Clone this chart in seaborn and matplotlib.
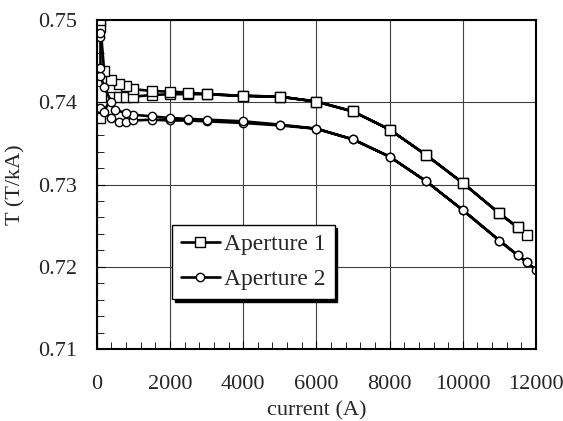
import numpy as np
import pandas as pd
import seaborn as sns
import matplotlib.pyplot as plt
from matplotlib.ticker import MultipleLocator

# Aperture 1: ramp up, then ramp down (hysteresis at low current)
ap1_current = [100, 400, 600, 800, 1000, 1500, 2000, 2500, 3000, 4000, 5000,
               6000, 7000, 8000, 9000, 10000, 11000, 11500, 11750,
               11500, 11000, 10000, 9000, 8000, 7000, 6000, 5000, 4000,
               3000, 2500, 2000, 1500, 1000, 800, 600, 400, 200, 100, 80]
ap1_tf = [0.7381, 0.7406, 0.7406, 0.7407, 0.7407, 0.7409, 0.7410, 0.7410, 0.7410, 0.7408, 0.7407,
          0.7401, 0.7389, 0.7367, 0.7336, 0.7302, 0.7265, 0.7248, 0.7239,
          0.7248, 0.7265, 0.7302, 0.7336, 0.7367, 0.7389, 0.7401, 0.7407, 0.7408,
          0.7410, 0.7412, 0.7413, 0.7414, 0.7416, 0.7420, 0.7422, 0.7427, 0.7438, 0.7492, 0.7500]

# Aperture 2
ap2_current = [100, 200, 400, 600, 800, 1000, 1500, 2000, 2500, 3000, 4000, 5000,
               6000, 7000, 8000, 9000, 10000, 11000, 11500, 11750, 12000,
               11750, 11500, 11000, 10000, 9000, 8000, 7000, 6000, 5000, 4000,
               3000, 2500, 2000, 1500, 1000, 800, 500, 400, 200, 100, 100, 100, 100]
ap2_tf = [0.7393, 0.7388, 0.7381, 0.7376, 0.7376, 0.7378, 0.7379, 0.7378, 0.7378, 0.7377, 0.7375, 0.7372,
          0.7368, 0.7355, 0.7334, 0.7304, 0.7269, 0.7232, 0.7214, 0.7206, 0.7196,
          0.7206, 0.7214, 0.7232, 0.7269, 0.7304, 0.7334, 0.7355, 0.7368, 0.7373, 0.7377,
          0.7379, 0.7380, 0.7381, 0.7383, 0.7385, 0.7387, 0.7391, 0.7400, 0.7419, 0.7432, 0.7442, 0.7480, 0.7484]

df1 = pd.DataFrame({'current': ap1_current, 'T': ap1_tf})
df2 = pd.DataFrame({'current': ap2_current, 'T': ap2_tf})

sns.set_style('white')
plt.rcParams['font.family'] = ['Liberation Serif', 'DejaVu Serif']
plt.rcParams['font.size'] = 16

fig, ax = plt.subplots(figsize=(5.63, 4.21), dpi=100)
fig.subplots_adjust(left=0.172, right=0.952, top=0.952, bottom=0.171)

sns.lineplot(data=df1, x='current', y='T', sort=False, estimator=None, errorbar=None,
             ax=ax, color='black', lw=1.9,
             marker='s', markersize=6.5, markerfacecolor='white', markeredgecolor='black',
             markeredgewidth=1.0, label='Aperture 1')
sns.lineplot(data=df2, x='current', y='T', sort=False, estimator=None, errorbar=None,
             ax=ax, color='black', lw=1.9,
             marker='o', markersize=6, markerfacecolor='white', markeredgecolor='black',
             markeredgewidth=1.0, label='Aperture 2')

ax.set_xlim(0, 12000)
ax.set_ylim(0.71, 0.75)
ax.xaxis.set_major_locator(MultipleLocator(2000))
ax.xaxis.set_minor_locator(MultipleLocator(400))
ax.yaxis.set_major_locator(MultipleLocator(0.01))
ax.yaxis.set_minor_locator(MultipleLocator(0.002))
ax.yaxis.set_major_formatter(plt.FuncFormatter(lambda v, p: f'{v:.2f}'))
ax.grid(True, which='major', color='#404040', lw=0.8)
ax.tick_params(which='both', direction='in', bottom=True, left=True, top=False, right=False,
               color='black', labelsize=16)
ax.tick_params(which='major', length=6)
ax.tick_params(which='minor', length=5)
ax.tick_params(axis='x', which='major', pad=19)
ax.tick_params(axis='y', which='major', pad=14)
for s in ax.spines.values():
    s.set_color('black')
    s.set_linewidth(1.5)

ax.set_xlabel('current (A)', fontsize=16, labelpad=5)
ax.set_ylabel('T (T/kA)', fontsize=16, labelpad=9)

leg = ax.legend(loc='lower left', bbox_to_anchor=(0.171, 0.152), borderaxespad=0,
                fancybox=False, shadow={'color': 'black', 'alpha': 1}, framealpha=1,
                edgecolor='black', handlelength=1.65, handletextpad=0.2, borderpad=0.37,
                labelspacing=0.58, fontsize=17)
leg.get_frame().set_linewidth(1.0)

plt.savefig('out.png', dpi=100)
